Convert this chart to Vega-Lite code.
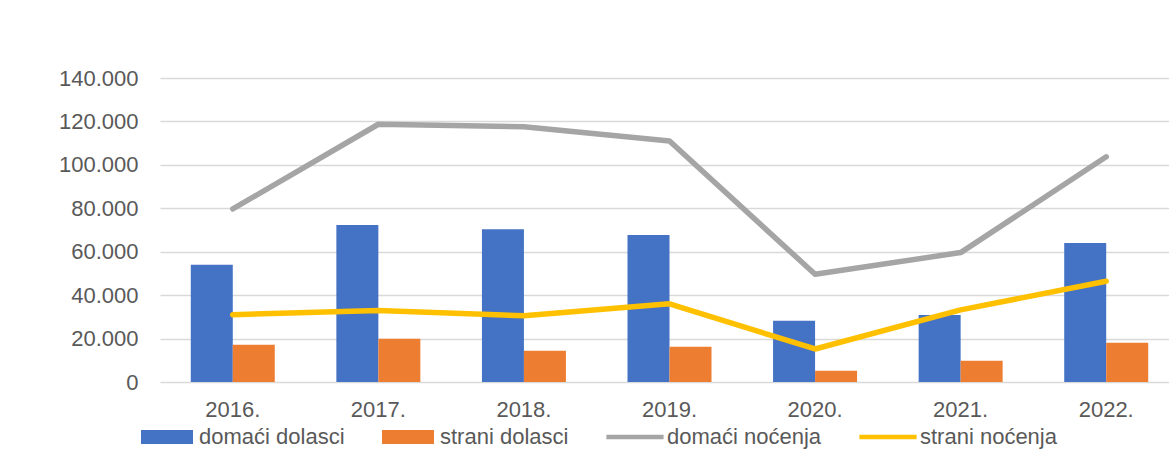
{
  "$schema": "https://vega.github.io/schema/vega-lite/v6.json",
  "width": 1009,
  "height": 304,
  "autosize": {"type": "none"},
  "padding": {"left": 160, "top": 78, "right": 0, "bottom": 88},
  "background": "white",
  "config": {
    "view": {"stroke": null},
    "font": "Liberation Sans"
  },
  "data": {
    "values": [
      {"year": "2016.", "series": "domaći dolasci", "value": 54000},
      {"year": "2016.", "series": "strani dolasci", "value": 17100},
      {"year": "2016.", "series": "domaći noćenja", "value": 79700},
      {"year": "2016.", "series": "strani noćenja", "value": 31000},
      {"year": "2017.", "series": "domaći dolasci", "value": 72300},
      {"year": "2017.", "series": "strani dolasci", "value": 19900},
      {"year": "2017.", "series": "domaći noćenja", "value": 118700},
      {"year": "2017.", "series": "strani noćenja", "value": 32900},
      {"year": "2018.", "series": "domaći dolasci", "value": 70400},
      {"year": "2018.", "series": "strani dolasci", "value": 14400},
      {"year": "2018.", "series": "domaći noćenja", "value": 117500},
      {"year": "2018.", "series": "strani noćenja", "value": 30500},
      {"year": "2019.", "series": "domaći dolasci", "value": 67700},
      {"year": "2019.", "series": "strani dolasci", "value": 16200},
      {"year": "2019.", "series": "domaći noćenja", "value": 111000},
      {"year": "2019.", "series": "strani noćenja", "value": 36000},
      {"year": "2020.", "series": "domaći dolasci", "value": 28200},
      {"year": "2020.", "series": "strani dolasci", "value": 5200},
      {"year": "2020.", "series": "domaći noćenja", "value": 49600},
      {"year": "2020.", "series": "strani noćenja", "value": 15200},
      {"year": "2021.", "series": "domaći dolasci", "value": 30900},
      {"year": "2021.", "series": "strani dolasci", "value": 9800},
      {"year": "2021.", "series": "domaći noćenja", "value": 59600},
      {"year": "2021.", "series": "strani noćenja", "value": 33200},
      {"year": "2022.", "series": "domaći dolasci", "value": 64000},
      {"year": "2022.", "series": "strani dolasci", "value": 18100},
      {"year": "2022.", "series": "domaći noćenja", "value": 103700},
      {"year": "2022.", "series": "strani noćenja", "value": 46400}
    ]
  },
  "encoding": {
    "x": {
      "field": "year",
      "type": "nominal",
      "scale": {"range": [0, 1019], "paddingInner": 0.423, "paddingOuter": 0.2115},
      "axis": {
        "title": null,
        "labelAngle": 0,
        "ticks": false,
        "domain": false,
        "grid": false,
        "labelFont": "Liberation Sans",
        "labelFontSize": 22,
        "labelColor": "#595959",
        "labelPadding": 17
      }
    },
    "y": {
      "field": "value",
      "type": "quantitative",
      "scale": {"domain": [0, 140000], "nice": false},
      "axis": {
        "title": null,
        "values": [0, 20000, 40000, 60000, 80000, 100000, 120000, 140000],
        "labelExpr": "replace(format(datum.value, ',d'), ',', '.')",
        "domain": false,
        "ticks": false,
        "gridColor": "#d9d9d9",
        "gridWidth": 1.4,
        "labelFont": "Liberation Sans",
        "labelFontSize": 22,
        "labelColor": "#595959",
        "labelPadding": 22
      }
    },
    "color": {
      "field": "series",
      "type": "nominal",
      "scale": {
        "domain": ["domaći dolasci", "strani dolasci", "domaći noćenja", "strani noćenja"],
        "range": ["#4472c4", "#ed7d31", "#a5a5a5", "#ffc000"]
      },
      "legend": {
        "title": null,
        "orient": "none",
        "direction": "horizontal",
        "legendX": -19,
        "legendY": 333,
        "padding": 0,
        "labelFont": "Liberation Sans",
        "labelFontSize": 22,
        "labelColor": "#595959",
        "labelOffset": 6,
        "columnPadding": 37,
        "symbolSize": 2704,
        "encode": {
          "symbols": {
            "update": {
              "shape": {"signal": "(datum.value == 'domaći noćenja' || datum.value == 'strani noćenja') ? 'M-1.1,-0.09H1.1V0.09H-1.1Z' : 'M-1,-0.27H1V0.27H-1Z'"},
              "fill": {"scale": "color", "field": "value"},
              "stroke": {"value": "transparent"},
              "strokeWidth": {"value": 0},
              "size": {"value": 2704},
              "opacity": {"value": 1},
              "fillOpacity": {"value": 1}
            }
          }
        }
      }
    }
  },
  "layer": [
    {
      "transform": [{"filter": "datum.series == 'domaći dolasci' || datum.series == 'strani dolasci'"}],
      "mark": {"type": "bar"},
      "encoding": {
        "xOffset": {
          "field": "series",
          "type": "nominal",
          "scale": {"domain": ["domaći dolasci", "strani dolasci"], "paddingInner": 0, "paddingOuter": 0}
        }
      }
    },
    {
      "transform": [{"filter": "datum.series == 'domaći noćenja' || datum.series == 'strani noćenja'"}],
      "mark": {"type": "line", "strokeWidth": 5.5, "strokeCap": "round", "strokeJoin": "round"},
      "encoding": {
        "detail": {"field": "series", "type": "nominal"}
      }
    }
  ]
}
